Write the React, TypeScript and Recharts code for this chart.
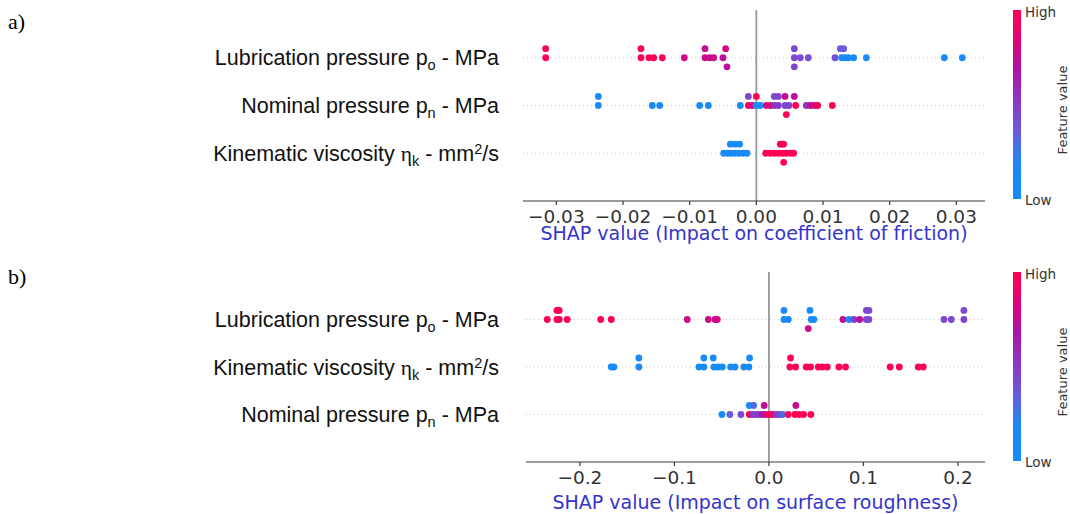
import React from 'react';
import { ScatterChart, Scatter, XAxis, YAxis, ReferenceLine, Label } from 'recharts';

// one dot = [SHAP value, feature value (0 = low, 1 = high), swarm level]
type Pt = [number, number, number];
type Seg = [string, 'n' | 'sub' | 'sup' | 'greek'];

const LUBRICATION: Seg[] = [['Lubrication pressure p', 'n'], ['o', 'sub'], [' - MPa', 'n']];
const NOMINAL: Seg[] = [['Nominal pressure p', 'n'], ['n', 'sub'], [' - MPa', 'n']];
const KINEMATIC: Seg[] = [
  ['Kinematic viscosity ', 'n'], ['η', 'greek'], ['k', 'sub'], [' - mm', 'n'], ['2', 'sup'], ['/s', 'n'],
];

// a) coefficient of friction, rows from top to bottom
const frictionRows: Seg[][] = [LUBRICATION, NOMINAL, KINEMATIC];
const frictionTicks = [-0.03, -0.02, -0.01, 0, 0.01, 0.02, 0.03];

const frictionLubrication: Pt[] = [
  [-0.0316, 1, 1], [-0.0316, 1, 0],
  [-0.0173, 1, 1], [-0.0173, 1, 0], [-0.0161, 1, 0], [-0.0154, 0.98, 0], [-0.0141, 1, 0],
  [-0.0108, 0.8, 0],
  [-0.0077, 0.75, 1], [-0.0077, 0.78, 0], [-0.007, 0.75, 0], [-0.0064, 0.78, 0],
  [-0.005, 0.72, 0], [-0.0046, 0.8, 1], [-0.0044, 0.72, -1],
  [0.0057, 0.45, 1], [0.0057, 0.45, 0], [0.0057, 0.45, -1], [0.0066, 0.42, 0], [0.0078, 0.42, 0],
  [0.0118, 0.4, 0], [0.0126, 0.35, 1], [0.0131, 0.35, 1],
  [0.0128, 0.1, 0], [0.0133, 0.05, 0], [0.0138, 0.08, 0], [0.0146, 0.05, 0], [0.0165, 0.05, 0],
  [0.0282, 0.05, 0], [0.0309, 0.05, 0],
];

const frictionNominal: Pt[] = [
  [-0.0237, 0.05, 1], [-0.0237, 0.05, 0], [-0.0156, 0.05, 0], [-0.0145, 0.05, 0],
  [-0.0085, 0.05, 0], [-0.0072, 0.05, 0],
  [-0.0024, 0.05, 0], [-0.0012, 0.92, 0], [-0.0006, 0.8, 0], [0.0, 0.05, 0], [0.0006, 0.05, 0],
  [0.0015, 0.8, 0], [0.0021, 0.85, 0], [0.0027, 0.55, 0], [0.0033, 0.5, 0], [0.0043, 0.45, 0],
  [0.0049, 0.45, 0], [0.0059, 1, 0], [0.0075, 0.55, 0], [0.0081, 0.75, 0], [0.0087, 0.8, 0],
  [0.0092, 0.95, 0], [0.0114, 1, 0],
  [-0.0012, 0.45, 1], [0.0, 1, 1], [0.0027, 0.45, 1], [0.0033, 0.45, 1], [0.0043, 0.75, 1], [0.0057, 0.75, 1],
  [0.0045, 1, -1],
];

const frictionKinematic: Pt[] = [
  [-0.0039, 0.05, 1], [-0.0032, 0.05, 1], [-0.0025, 0.05, 1],
  [-0.0049, 0.05, 0], [-0.0043, 0.05, 0], [-0.0038, 0.05, 0], [-0.0032, 0.05, 0],
  [-0.0026, 0.05, 0], [-0.002, 0.05, 0], [-0.0014, 0.05, 0],
  [0.0014, 1, 0], [0.0021, 1, 0], [0.0027, 1, 0], [0.0033, 1, 0], [0.0039, 1, 0],
  [0.0045, 1, 0], [0.0051, 1, 0], [0.0056, 1, 0],
  [0.0036, 1, 1], [0.0041, 1, 1], [0.0041, 1, -1],
];

// b) surface roughness, rows from top to bottom
const roughnessRows: Seg[][] = [LUBRICATION, KINEMATIC, NOMINAL];
const roughnessTicks = [-0.2, -0.1, 0, 0.1, 0.2];

const roughnessLubrication: Pt[] = [
  [-0.2345, 1, 0], [-0.2243, 1, 1], [-0.2219, 1, 1], [-0.2243, 1, 0], [-0.2219, 1, 0], [-0.2134, 1, 0],
  [-0.178, 1, 0], [-0.1668, 1, 0],
  [-0.0864, 0.78, 0], [-0.0641, 0.78, 0], [-0.0571, 0.8, 0], [-0.0546, 0.8, 0],
  [0.0159, 0.05, 1], [0.0159, 0.05, 0], [0.0205, 0.05, 0],
  [0.0434, 0.05, 1], [0.0448, 0.05, 0], [0.0476, 0.05, 0], [0.0416, 0.78, -1],
  [0.0783, 0.75, 0], [0.0847, 0.05, 0], [0.09, 0.5, 0], [0.096, 0.72, 0],
  [0.1031, 0.45, 1], [0.1058, 0.45, 1], [0.1031, 0.45, 0], [0.1058, 0.45, 0],
  [0.1852, 0.45, 0], [0.193, 0.45, 0], [0.2063, 0.45, 1], [0.2063, 0.45, 0],
];

const roughnessKinematic: Pt[] = [
  [-0.1668, 0.05, 0], [-0.164, 0.05, 0], [-0.1376, 0.05, 1], [-0.1376, 0.05, 0],
  [-0.0688, 0.05, 1], [-0.0589, 0.05, 1], [-0.0205, 0.05, 1],
  [-0.074, 0.05, 0], [-0.0688, 0.05, 0], [-0.0582, 0.05, 0], [-0.0536, 0.05, 0], [-0.0493, 0.05, 0],
  [-0.0405, 0.05, 0], [-0.036, 0.05, 0], [-0.0265, 0.05, 0], [-0.0212, 0.05, 0],
  [0.0229, 1, 1], [0.0222, 1, 0], [0.0282, 1, 0], [0.0395, 1, 0], [0.0441, 1, 0],
  [0.0522, 1, 0], [0.0565, 1, 0], [0.0617, 1, 0], [0.0741, 1, 0], [0.0811, 1, 0],
  [0.1283, 1, 0], [0.1379, 1, 0], [0.158, 1, 0], [0.1633, 1, 0],
];

const roughnessNominal: Pt[] = [
  [-0.0497, 0.05, 0], [-0.0413, 0.35, 0], [-0.0296, 0.45, 0], [-0.0208, 1, 0], [-0.0173, 0.5, 0],
  [-0.0138, 0.45, 0], [-0.0103, 0.5, 0], [-0.0067, 0.7, 0], [-0.0032, 0.75, 0], [0.0003, 1, 0],
  [0.0039, 0.95, 0], [0.0074, 0.5, 0], [0.0109, 0.45, 0], [0.0145, 0.3, 0], [0.0204, 1, 0],
  [0.0275, 1, 0], [0.0321, 1, 0], [0.0367, 1, 0], [0.0444, 1, 0],
  [-0.0208, 0.05, 1], [-0.0162, 0.3, 1], [-0.005, 0.75, 1], [0.0285, 0.75, 1],
];

// low -> high colour map
const STOPS: [number, number[]][] = [
  [0, [20, 140, 250]],
  [0.2, [30, 136, 245]],
  [0.35, [105, 92, 222]],
  [0.5, [135, 60, 200]],
  [0.7, [178, 18, 160]],
  [0.85, [225, 5, 115]],
  [1, [255, 0, 82]],
];

const featureColor = (f: number) => {
  for (let i = 1; i < STOPS.length; i++) {
    const [p1, c1] = STOPS[i];
    const [p0, c0] = STOPS[i - 1];
    if (f <= p1) {
      const t = (f - p0) / (p1 - p0);
      const c = c0.map((v, k) => Math.round(v + (c1[k] - v) * t));
      return `rgb(${c[0]},${c[1]},${c[2]})`;
    }
  }
  return 'rgb(255,0,82)';
};

const LEVEL = 0.19;

const buildPoints = (rows: Pt[][]) =>
  rows.flatMap((row, i) =>
    row.map(([x, f, lvl]) => ({ x, y: rows.length - i + lvl * LEVEL, color: featureColor(f) }))
  );

const fmt = (d: number) => (v: number) => (v < 0 ? '\u2212' : '') + Math.abs(v).toFixed(d);

const LABEL_SIZE = 21.5;

const RowLabel = ({ segs, y }: { segs: Seg[]; y: number }) => {
  // first tspan carries the centring shift, later ones the sub/superscript moves
  let cur = -0.35 * LABEL_SIZE;
  return (
    <text x={499} y={y} textAnchor="end" fill="#111"
      style={{ fontFamily: '"Liberation Sans", Arial, sans-serif', fontSize: LABEL_SIZE }}>
      {segs.map(([t, kind], i) => {
        const want = kind === 'sub' ? 5 : kind === 'sup' ? -7 : 0;
        const dy = want - cur;
        cur = want;
        return (
          <tspan key={i} dy={dy}
            fontSize={kind === 'sub' || kind === 'sup' ? 14.5 : LABEL_SIZE}
            fontFamily={kind === 'greek' ? '"Liberation Serif", serif' : undefined}>
            {t}
          </tspan>
        );
      })}
    </text>
  );
};

type ChartProps = {
  rows: Seg[][];
  points: Pt[][];
  domain: [number, number];
  ticks: number[];
  decimals: number;
  title: string;
  yWidth: number;
  height: number;
  axisHeight: number;
  titleOffset: number;
};

const SwarmChart = ({ rows, points, domain, ticks, decimals, title, yWidth, height, axisHeight, titleOffset }: ChartProps) => {
  const data = buildPoints(points);
  const tickFont = { fontFamily: '"DejaVu Sans", sans-serif', fontSize: 18.5, fill: '#333' };
  return (
    <ScatterChart width={985} height={height} margin={{ top: 10, right: 0, bottom: 0, left: 0 }}>
      <XAxis type="number" dataKey="x" domain={domain} ticks={ticks} allowDataOverflow
        tickFormatter={fmt(decimals)} height={axisHeight} tick={tickFont}
        tickSize={4} tickMargin={5} stroke="#3a3a3a" strokeWidth={1.2}>
        <Label
          content={(p: any) => (
            <text x={p.viewBox.x + p.viewBox.width / 2} y={p.viewBox.y + titleOffset} textAnchor="middle"
              fill="#3434cc" style={{ fontFamily: '"DejaVu Sans", sans-serif', fontSize: 19 }}>
              {title}
            </text>
          )}
        />
      </XAxis>
      <YAxis type="number" dataKey="y" domain={[0, 4]} ticks={[1, 2, 3]} width={yWidth}
        axisLine={false} tickLine={false} allowDataOverflow
        tick={(p: any) => <RowLabel segs={rows[rows.length - p.payload.value]} y={p.y} />} />
      {[1, 2, 3].map((r) => (
        <ReferenceLine key={r} y={r} stroke="#cccccc" strokeDasharray="1 3" />
      ))}
      <ReferenceLine x={0} stroke="#999" strokeWidth={1.8} />
      <Scatter data={data} isAnimationActive={false}
        shape={(p: any) => <circle cx={p.cx} cy={p.cy} r={3.4} fill={p.payload.color} />} />
    </ScatterChart>
  );
};

const ColorBar = ({ top, id }: { top: number; id: string }) => (
  <svg width={80} height={212} style={{ position: 'absolute', left: 990, top: top - 5 }}>
    <defs>
      <linearGradient id={id} x1="0" y1="1" x2="0" y2="0">
        {STOPS.map(([p, c]) => (
          <stop key={p} offset={p} stopColor={`rgb(${c[0]},${c[1]},${c[2]})`} />
        ))}
      </linearGradient>
    </defs>
    <rect x={23} y={5} width={8} height={189} fill={`url(#${id})`} />
    <g style={{ fontFamily: '"DejaVu Sans", sans-serif', fill: '#333' }}>
      <text x={35} y={6.5} dominantBaseline="central" fontSize={13.5}>High</text>
      <text x={35} y={195} dominantBaseline="central" fontSize={13.5}>Low</text>
      <text transform="translate(72,105) rotate(-90)" textAnchor="middle" dominantBaseline="central" fontSize={13}>
        Feature value
      </text>
    </g>
  </svg>
);

const panelLabel = (top: number): React.CSSProperties => ({
  position: 'absolute', left: 8, top, fontFamily: '"Liberation Serif", serif', fontSize: 22, lineHeight: '22px',
});

export default function App() {
  return (
    <div style={{ position: 'absolute', left: 0, top: 0, width: 1070, height: 514, background: '#fff' }}>
      <div style={{ position: 'absolute', left: 0, top: 0 }}>
        <SwarmChart rows={frictionRows} points={[frictionLubrication, frictionNominal, frictionKinematic]}
          domain={[-0.035, 0.0343]} ticks={frictionTicks} decimals={2}
          title="SHAP value (Impact on coefficient of friction)"
          yWidth={523} height={262} axisHeight={61} titleOffset={39} />
      </div>
      <div style={{ position: 'absolute', left: 0, top: 262 }}>
        <SwarmChart rows={roughnessRows} points={[roughnessLubrication, roughnessKinematic, roughnessNominal]}
          domain={[-0.257, 0.2286]} ticks={roughnessTicks} decimals={1}
          title="SHAP value (Impact on surface roughness)"
          yWidth={526} height={252} axisHeight={52} titleOffset={46.5} />
      </div>
      <ColorBar top={10} id="cbA" />
      <ColorBar top={272} id="cbB" />
      <div style={panelLabel(10.5)}>a)</div>
      <div style={panelLabel(265.5)}>b)</div>
    </div>
  );
}
